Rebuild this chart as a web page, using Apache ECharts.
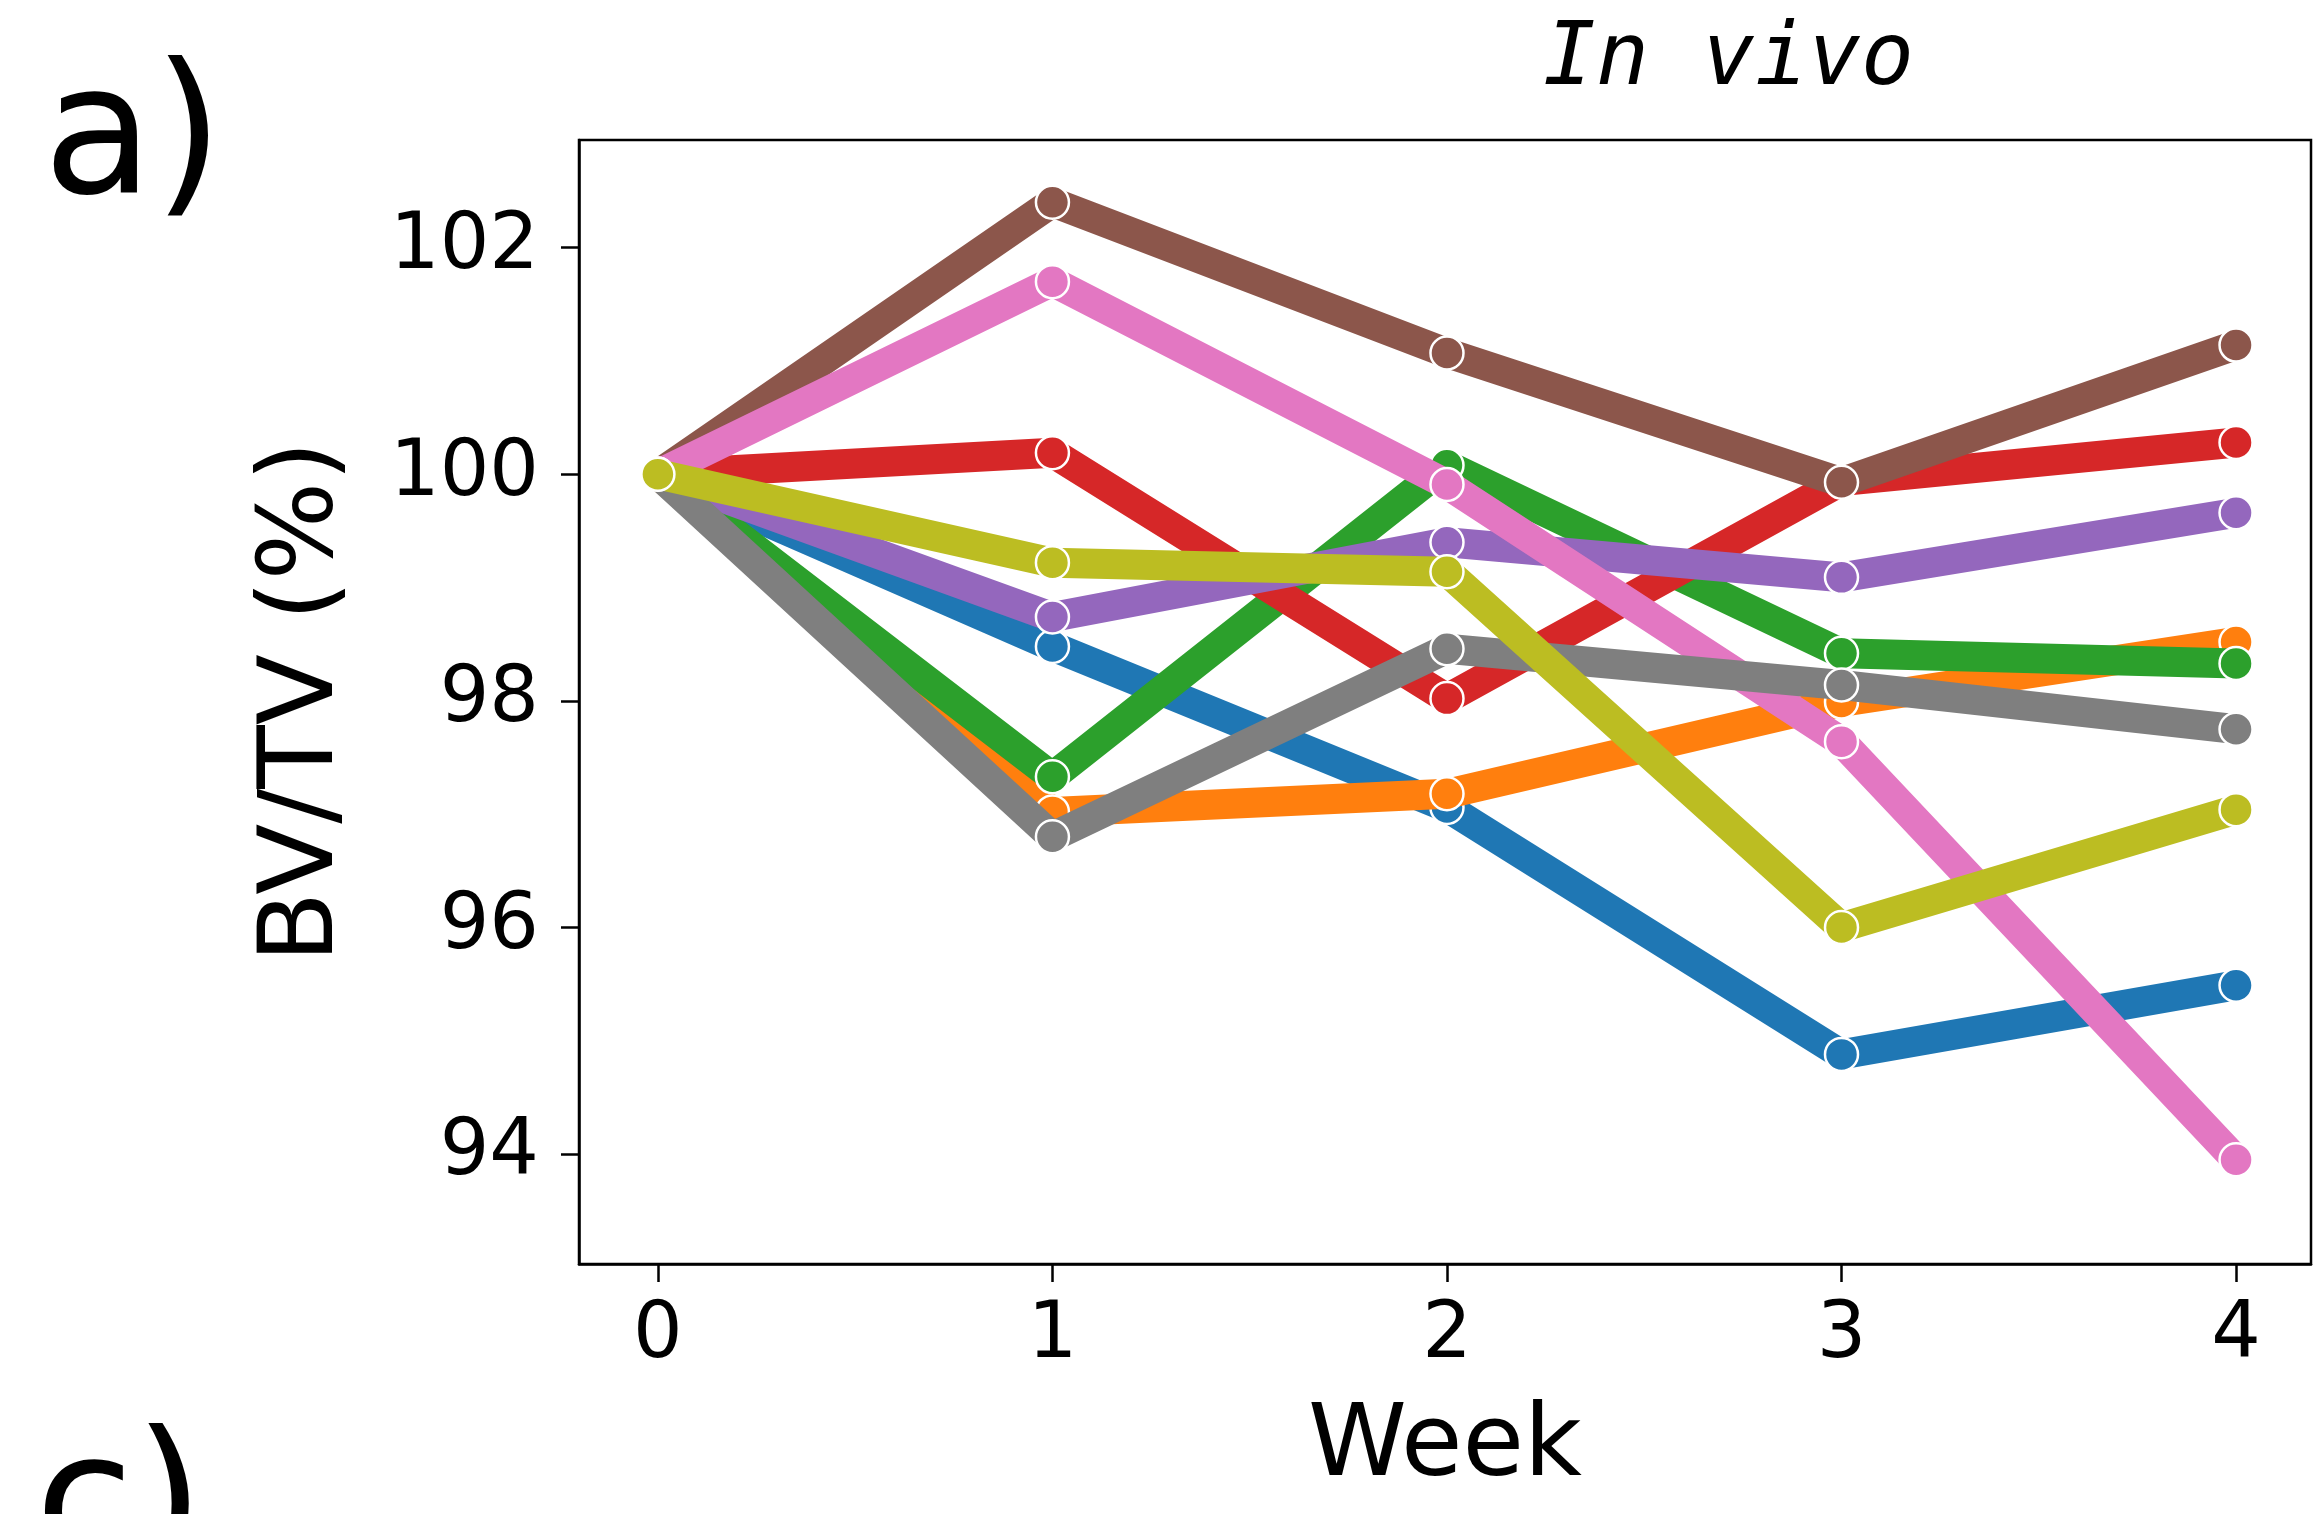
<!DOCTYPE html>
<html>
<head>
<meta charset="utf-8">
<script src="https://cdn.jsdelivr.net/npm/echarts@6/dist/echarts.min.js"></script>
<style>
  html, body { margin: 0; padding: 0; background: #fff; }
  #chart { width: 2315px; height: 1514px; }
</style>
</head>
<body>
<div id="chart"></div>
<script>
const weeks = [0, 1, 2, 3, 4];
const yTicks = [94, 96, 98, 100, 102];

const blue = [100, 98.48, 97.06, 94.88, 95.49];
const orange = [100, 97.02, 97.18, 97.99, 98.52];
const green = [100, 97.33, 100.08, 98.42, 98.33];
const red = [100, 100.19, 98.02, 99.94, 100.28];
const purple = [100, 98.74, 99.40, 99.09, 99.66];
const brown = [100, 102.40, 101.07, 99.93, 101.14];
const pink = [100, 101.70, 99.91, 97.64, 93.95];
const gray = [100, 96.80, 98.46, 98.14, 97.75];
const olive = [100, 99.22, 99.14, 96.00, 97.04];

const lines = [
  { values: blue, color: "#1f77b4" },
  { values: orange, color: "#ff7f0e" },
  { values: green, color: "#2ca02c" },
  { values: red, color: "#d62728" },
  { values: purple, color: "#9467bd" },
  { values: brown, color: "#8c564b" },
  { values: pink, color: "#e377c2" },
  { values: gray, color: "#7f7f7f" },
  { values: olive, color: "#bcbd22" }
];

const chart = echarts.init(document.getElementById("chart"));
const font = "DejaVu Sans";

chart.setOption({
  animation: false,
  backgroundColor: "#fff",
  title: [
    {
      text: "In vivo",
      left: 1538, top: 12,
      textStyle: { fontFamily: "DejaVu Sans Mono", fontStyle: "italic", fontWeight: "normal", fontSize: 88, color: "#000" }
    },
    {
      text: "a)",
      left: 38, top: 50,
      textStyle: { fontFamily: font, fontWeight: "normal", fontSize: 180, color: "#000" }
    },
    {
      text: "c)",
      left: 30, top: 1418,
      textStyle: { fontFamily: font, fontWeight: "normal", fontSize: 180, color: "#000" }
    }
  ],
  grid: { left: 579, right: 4, top: 140, bottom: 250, show: true, borderColor: "#000", borderWidth: 2.5 },
  xAxis: {
    type: "value",
    min: -0.2, max: 4.19,
    name: "Week",
    nameLocation: "middle",
    nameGap: 135,
    nameTextStyle: { fontFamily: font, fontSize: 100, color: "#000" },
    axisLine: { show: true, onZero: false, lineStyle: { color: "#000", width: 2.5 } },
    axisTick: { show: true, length: 18, lineStyle: { color: "#000", width: 2.5 }, customValues: weeks },
    axisLabel: { fontFamily: font, fontSize: 78, color: "#000", margin: 34, customValues: weeks },
    splitLine: { show: false }
  },
  yAxis: {
    type: "value",
    min: 93.03, max: 102.95,
    name: "BV/TV (%)",
    nameLocation: "middle",
    nameRotate: 90,
    nameGap: 222,
    nameTextStyle: { fontFamily: font, fontSize: 104, color: "#000" },
    axisLine: { show: true, onZero: false, lineStyle: { color: "#000", width: 2.5 } },
    axisTick: { show: true, length: 18, lineStyle: { color: "#000", width: 2.5 }, customValues: yTicks },
    axisLabel: { fontFamily: font, fontSize: 78, color: "#000", margin: 40, customValues: yTicks },
    splitLine: { show: false }
  },
  series: lines.map((line, i) => ({
    type: "line",
    z: 2 + i,
    data: weeks.map((w, j) => [w, line.values[j]]),
    symbol: "circle",
    symbolSize: 33,
    showAllSymbol: true,
    lineStyle: { color: line.color, width: 30, join: "round" },
    itemStyle: { color: line.color, borderColor: "#fff", borderWidth: 2.5 },
    emphasis: { disabled: true }
  }))
});
</script>
</body>
</html>
